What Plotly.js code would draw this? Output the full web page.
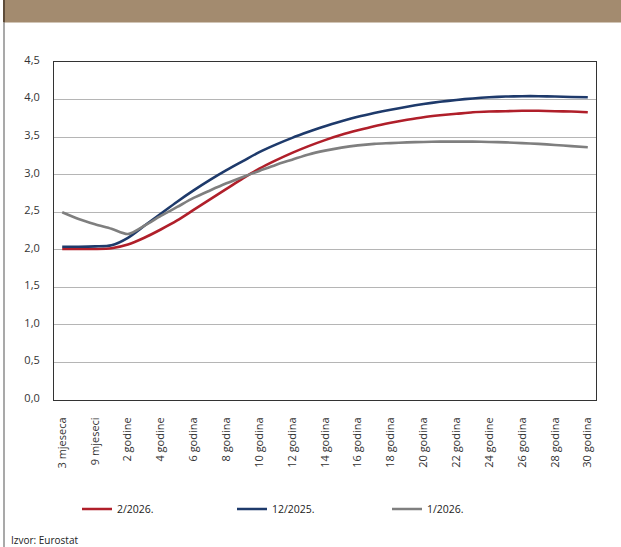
<!DOCTYPE html>
<html>
<head>
<meta charset="utf-8">
<script src="https://cdn.plot.ly/plotly-3.0.1.min.js"></script>
<style>
html,body{margin:0;padding:0;background:#fff;}
#chart{width:621px;height:547px;}
</style>
</head>
<body>
<div id="chart"></div>
<script>
const maturities = ['3 mjeseca','6 mjeseci','9 mjeseci','1 godina','2 godine','3 godine','4 godine','5 godina',
  '6 godina','7 godina','8 godina','9 godina','10 godina','11 godina','12 godina','13 godina','14 godina',
  '15 godina','16 godina','17 godina','18 godina','19 godina','20 godina','21 godina','22 godina','23 godine',
  '24 godine','25 godina','26 godina','27 godina','28 godina','29 godina','30 godina'];

const tickLabels = ['3 mjeseca','9 mjeseci','2 godine','4 godine','6 godina','8 godina','10 godina','12 godina',
  '14 godina','16 godina','18 godina','20 godina','22 godina','24 godine','26 godina','28 godina','30 godina'];

const seriesNames = ['2/2026.','12/2025.','1/2026.'];

const curveFeb2026 = [2.01,2.01,2.01,2.02,2.07,2.16,2.27,2.39,2.53,2.67,2.81,2.95,3.08,3.19,3.29,3.38,3.46,
  3.53,3.59,3.645,3.69,3.73,3.765,3.79,3.81,3.83,3.84,3.845,3.85,3.85,3.845,3.84,3.83];

const curveDec2025 = [2.04,2.04,2.045,2.06,2.16,2.32,2.48,2.64,2.79,2.93,3.06,3.18,3.30,3.40,3.49,3.57,3.645,
  3.71,3.77,3.82,3.865,3.905,3.94,3.97,3.995,4.015,4.03,4.04,4.045,4.045,4.04,4.035,4.03];

const curveJan2026 = [2.50,2.41,2.34,2.28,2.21,2.32,2.45,2.57,2.69,2.79,2.885,2.97,3.05,3.13,3.20,3.27,3.32,
  3.36,3.39,3.41,3.42,3.43,3.435,3.44,3.44,3.44,3.435,3.43,3.42,3.41,3.395,3.38,3.365];

const colors = ['#B01F2A','#1E3A6B','#7F7F7F'];
const seriesValues = [curveFeb2026, curveDec2025, curveJan2026];

// layout geometry (pixels)
const W = 621, H = 547;
const M = {l: 54, r: 25, t: 62, b: 147};
const PW = W - M.l - M.r, PH = H - M.t - M.b;
const px = x => (x - M.l) / PW;
const py = y => (H - M.b - y) / PH;

const traces = seriesValues.map((vals, i) => ({
  type: 'scatter',
  mode: 'lines',
  name: seriesNames[i],
  x: maturities,
  y: vals,
  line: {color: colors[i], width: 2.6, shape: 'spline', smoothing: 0.8},
  hoverinfo: 'skip'
}));

const font = '"Open Sans", "Noto Sans", sans-serif';

const layout = {
  width: W, height: H,
  margin: {l: M.l, r: M.r, t: M.t, b: M.b, autoexpand: false},
  paper_bgcolor: '#ffffff',
  plot_bgcolor: '#ffffff',
  separators: ',.',
  font: {family: font, size: 11, color: '#333333'},
  showlegend: true,
  hovermode: false,
  xaxis: {
    type: 'category',
    categoryorder: 'array',
    categoryarray: maturities,
    range: [-0.5, maturities.length - 0.5],
    tickmode: 'array',
    tickvals: tickLabels,
    ticktext: tickLabels,
    tickangle: -90,
    ticks: '',
    ticklabelstandoff: 12,
    tickfont: {family: font, size: 11, color: '#333333'},
    showgrid: false,
    zeroline: false,
    showline: true,
    mirror: true,
    linecolor: '#333333',
    linewidth: 1
  },
  yaxis: {
    range: [0, 4.5],
    tick0: 0,
    dtick: 0.5,
    tickformat: '.1f',
    ticks: '',
    ticklabelstandoff: 11,
    ticklabelshift: -2,
    tickfont: {family: font, size: 11, color: '#333333'},
    showgrid: true,
    gridcolor: '#B5B5B5',
    gridwidth: 1,
    zeroline: false,
    showline: true,
    mirror: true,
    linecolor: '#333333',
    linewidth: 1
  },
  legend: {
    orientation: 'h',
    x: px(77), xanchor: 'left',
    y: py(509), yanchor: 'middle',
    font: {family: font, size: 10.5, color: '#222222'},
    bgcolor: 'rgba(0,0,0,0)',
    entrywidth: 110,
    entrywidthmode: 'pixels',
    traceorder: 'normal'
  },
  shapes: [
    {type: 'rect', xref: 'paper', yref: 'paper', x0: px(4), x1: px(630), y0: py(22.5), y1: py(-5),
     fillcolor: '#A38B6F', line: {width: 0}, layer: 'above'},
    {type: 'rect', xref: 'paper', yref: 'paper', x0: px(3), x1: px(5), y0: py(22.5), y1: py(-5),
     fillcolor: '#5E4C3A', line: {width: 0}, layer: 'above'},
    {type: 'line', xref: 'paper', yref: 'paper', x0: px(4), x1: px(4), y0: py(22.5), y1: py(560),
     line: {color: '#8C8C8C', width: 1.5}, layer: 'above'}
  ],
  annotations: [
    {xref: 'paper', yref: 'paper', x: px(9), y: py(540), xanchor: 'left', yanchor: 'middle',
     text: 'Izvor: Eurostat', showarrow: false, font: {family: font, size: 10, color: '#222222'}}
  ]
};

Plotly.newPlot('chart', traces, layout, {displayModeBar: false, staticPlot: true});
</script>
</body>
</html>
